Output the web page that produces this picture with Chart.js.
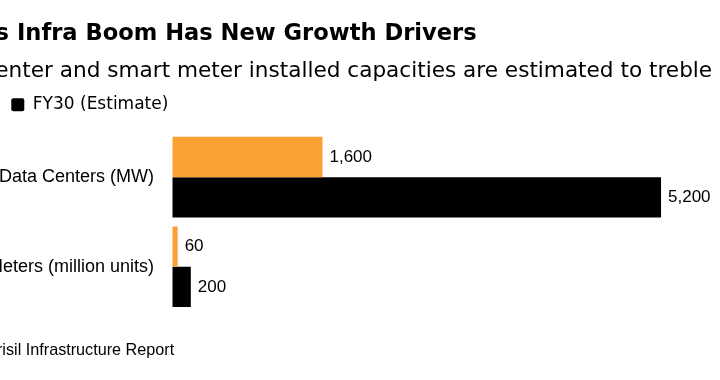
<!DOCTYPE html>
<html>
<head>
<meta charset="utf-8">
<script src="https://cdn.jsdelivr.net/npm/chart.js@4"></script>
<style>
  html, body { margin: 0; padding: 0; background: #fff; overflow: hidden; }
  /* the original picture is cropped on the left, so the chart is shifted out of view */
  #wrap { position: absolute; left: -75px; top: 0; width: 795px; height: 380px; }
</style>
</head>
<body>
<div id="wrap"><canvas id="chart"></canvas></div>
<script>
const categories = ['Data Centers (MW)', 'Smart Meters (million units)'];
const seriesNames = ['FY24', 'FY30 (Estimate)'];
const fy24Values = [1600, 60];
const fy30Values = [5200, 200];
const seriesColors = ['#fba133', '#000000'];

const titleText = "India's Infra Boom Has New Growth Drivers";
const subtitleText = 'Data center and smart meter installed capacities are estimated to treble';
const sourceText = 'Source: Crisil Infrastructure Report';

// numbers at the end of each bar
const valueLabels = {
    id: 'valueLabels',
    afterDatasetsDraw(chart) {
        const ctx = chart.ctx;
        ctx.save();
        ctx.font = '17px "Liberation Sans", Arial, sans-serif';
        ctx.fillStyle = '#000';
        ctx.textBaseline = 'middle';
        ctx.textAlign = 'left';
        chart.data.datasets.forEach((ds, i) => {
            chart.getDatasetMeta(i).data.forEach((bar, j) => {
                ctx.fillText(ds.data[j].toLocaleString('en-US'), bar.x + 7, bar.y);
            });
        });
        ctx.restore();
    }
};

// source line under the chart
const sourceNote = {
    id: 'sourceNote',
    afterDraw(chart) {
        const ctx = chart.ctx;
        ctx.save();
        ctx.font = '16.2px "Liberation Sans", Arial, sans-serif';
        ctx.fillStyle = '#000';
        ctx.textBaseline = 'alphabetic';
        ctx.textAlign = 'left';
        ctx.fillText(sourceText, 0, chart.chartArea.bottom + 43.5);
        ctx.restore();
    }
};

const ctx = document.getElementById('chart').getContext('2d');
const chart = new Chart(ctx, {
    type: 'bar',
    data: {
        labels: categories,
        datasets: [{
            label: seriesNames[0],
            data: fy24Values,
            backgroundColor: seriesColors[0],
            borderWidth: 0
        }, {
            label: seriesNames[1],
            data: fy30Values,
            backgroundColor: seriesColors[1],
            borderWidth: 0
        }]
    },
    options: {
        indexAxis: 'y',
        responsive: true,
        maintainAspectRatio: false,
        animation: false,
        layout: {
            padding: { left: 0, right: 0, top: 0, bottom: 68.5 }
        },
        datasets: {
            bar: { categoryPercentage: 0.9, barPercentage: 1.0 }
        },
        scales: {
            x: {
                position: 'top',
                min: 0,
                max: 5827,
                ticks: { display: false },
                grid: { display: true, color: 'rgba(0,0,0,0)', drawOnChartArea: false, drawTicks: true, tickLength: 9 },
                border: { display: false }
            },
            y: {
                grid: { display: false, drawTicks: false },
                border: { display: false },
                ticks: {
                    padding: 18,
                    color: '#000',
                    font: { family: '"Liberation Sans", Arial, sans-serif', size: 18 }
                },
                afterFit(scale) {
                    scale.width = 247;
                }
            }
        },
        plugins: {
            title: {
                display: true,
                text: titleText,
                align: 'start',
                color: '#000',
                font: { family: '"DejaVu Sans", sans-serif', size: 22.6, weight: 'bold', lineHeight: 1.2 },
                padding: { top: 21, bottom: 0 }
            },
            subtitle: {
                display: true,
                text: subtitleText,
                align: 'start',
                color: '#000',
                font: { family: '"DejaVu Sans", sans-serif', size: 21.6, lineHeight: 1.2 },
                padding: { top: 10.8, bottom: 0 }
            },
            legend: {
                position: 'top',
                align: 'start',
                labels: {
                    color: '#000',
                    boxWidth: 13,
                    boxHeight: 13,
                    padding: 11.5,
                    useBorderRadius: true,
                    borderRadius: 2,
                    font: { family: '"DejaVu Sans", sans-serif', size: 17 }
                }
            },
            tooltip: { enabled: false }
        }
    },
    plugins: [valueLabels, sourceNote]
});
</script>
</body>
</html>
